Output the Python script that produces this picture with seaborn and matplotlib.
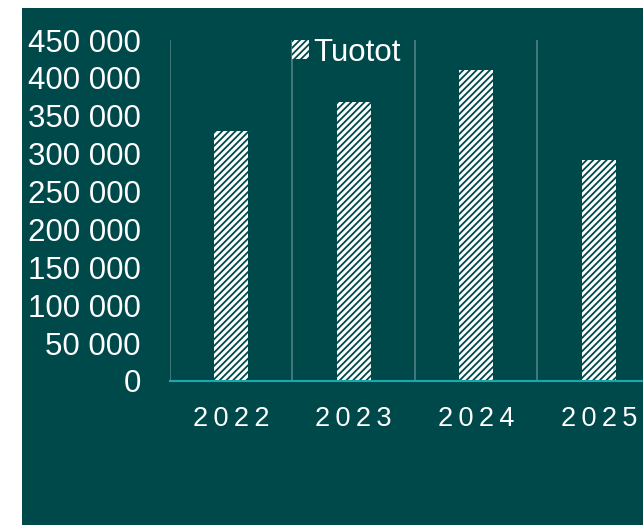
import matplotlib.pyplot as plt
import seaborn as sns
from matplotlib.patches import Patch, Rectangle

years = ["2022", "2023", "2024", "2025"]
tuotot = [330000, 368000, 410000, 292000]
yticks = list(range(0, 450001, 50000))

bg = "#00494b"
sns.set_style("white")
plt.rcParams["font.family"] = ["Liberation Sans", "DejaVu Sans"]
plt.rcParams["hatch.linewidth"] = 1.3

fig = plt.figure(figsize=(6.43, 5.25), dpi=100)
fig.patch.set_facecolor("white")
# dark panel behind the chart, leaving a white strip top and left
fig.patches.append(Rectangle((22 / 643, 0), 1, 517 / 525, transform=fig.transFigure,
                             facecolor=bg, edgecolor="none", zorder=-5))

ax = fig.add_axes([170 / 643, 1 - 381 / 525, 490 / 643, 341 / 525])
ax.set_zorder(2)
ax.patch.set_alpha(0)

sns.barplot(x=years, y=tuotot, color="white", width=0.28, ax=ax, linewidth=0)
for p in ax.patches:
    p.set_facecolor("white")
    p.set_edgecolor(bg)
    p.set_hatch("/////")

ax.set_xlim(-0.5, 3.5)
ax.set_ylim(0, 450000)
ax.set_yticks(yticks)
ax.set_yticklabels([f"{v:,}".replace(",", " ") for v in yticks], fontsize=22.5, color="white")
ax.set_xticks(range(len(years)))
ax.set_xticklabels(["\u2009".join(y) for y in years], fontsize=19.5, color="white")
ax.tick_params(axis="y", length=0, pad=21)
ax.tick_params(axis="x", length=0, pad=18)

# vertical gridlines between categories
ax.set_xticks([-0.5, 0.5, 1.5, 2.5, 3.5], minor=True)
ax.tick_params(axis="x", which="minor", length=0)
ax.grid(True, axis="x", which="minor", color="#4f8183", linewidth=1.2)
ax.grid(False, axis="y")
ax.grid(False, axis="x", which="major")

for s in ["top", "right", "left"]:
    ax.spines[s].set_visible(False)
ax.spines["bottom"].set_color("#19a9ad")
ax.spines["bottom"].set_linewidth(1.5)
ax.set_xlabel("")
ax.set_ylabel("")

handle = Patch(facecolor="white", edgecolor=bg, hatch="/////", linewidth=0, label="Tuotot")
leg = ax.legend(handles=[handle], loc="center", bbox_to_anchor=(0.36, 0.962), frameon=False,
                fontsize=22.5, handlelength=0.55, handleheight=0.55, handletextpad=0.15)
for t in leg.get_texts():
    t.set_color("white")

fig.savefig("out.png", dpi=100)
